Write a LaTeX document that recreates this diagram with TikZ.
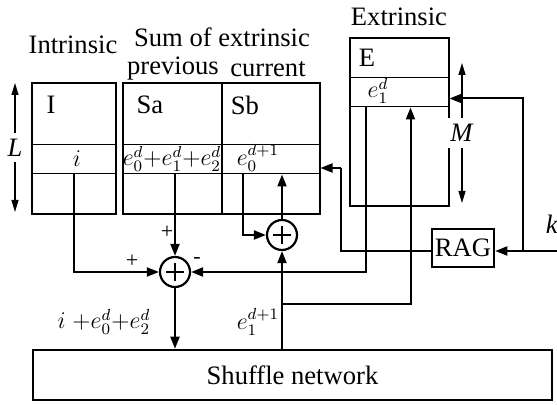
\documentclass[tikz,border=0pt]{standalone}
\usepackage{fontspec}
\setmainfont{Liberation Serif}
\usetikzlibrary{arrows.meta}
\tikzstyle{memory} = [
    rectangle,
    inner sep=0pt,
    line width=1.3pt,
    draw=black
]
\tikzstyle{slot} = [
    rectangle,
    inner sep=0pt,
    minimum height=14.5pt,
    line width=0.5pt,
    draw=black
]
\tikzstyle{adder} = [
    circle,
    minimum size=15pt,
    inner sep=0pt,
    line width=1.1pt,
    draw=black,
    path picture={\draw[line width=1.4pt]
        ([yshift=-3pt]path picture bounding box.north) -- ([yshift=3pt]path picture bounding box.south)
        ([xshift=3pt]path picture bounding box.west) -- ([xshift=-3pt]path picture bounding box.east);}
]
\tikzstyle{process} = [
    rectangle,
    inner sep=0pt,
    line width=1.3pt,
    draw=black
]
\tikzstyle{txt} = [inner sep=1pt]
\tikzstyle{mathtxt} = [inner sep=0pt, font=\fontsize{11.5}{13}\selectfont]
\tikzstyle{sign} = [inner sep=0pt, font=\fontsize{11}{13}\selectfont]
\tikzstyle{wire} = [line width=1pt]
\tikzstyle{arrow} = [line width=1pt,-{Triangle[length=6pt,width=4.5pt]}]
\tikzstyle{dimline} = [line width=0.6pt,{Triangle[length=6pt,width=3.5pt]}-{Triangle[length=6pt,width=3.5pt]}]

\begin{document}
\begin{tikzpicture}[x=0.5pt, y=-0.5pt, font=\fontsize{13.3}{16}\selectfont]
\useasboundingbox (0,0) rectangle (557,405);

\node (irow) [slot, minimum width=42pt] at (74,159.5) {};
\node (imem) [memory, minimum width=42pt, minimum height=65.5pt] at (74,148.5) {};

\node (sarow) [slot, minimum width=49.5pt] at (172.5,159.5) {};
\node (samem) [memory, minimum width=49.5pt, minimum height=65.5pt] at (172.5,148.5) {};

\node (sbrow) [slot, minimum width=49pt] at (271,159.5) {};
\node (sbmem) [memory, minimum width=49pt, minimum height=65.5pt] at (271,148.5) {};

\node (erow) [slot, minimum width=49.5pt] at (399.5,92.5) {};
\node (emem) [memory, minimum width=49.5pt, minimum height=84pt] at (399.5,122) {};

\node (rag) [process, minimum width=31pt, minimum height=19pt] at (463,248) {RAG};

\node (sumA) [adder] at (175,272) {};
\node (sumB) [adder] at (282,235) {};

\node (shuffle) [process, minimum width=259.5pt, minimum height=25pt] at (292.5,375) {Shuffle network};

\node (intrinsic) [txt] at (73,45) {Intrinsic};
\node (sumtitle) [txt] at (222,37) {Sum of extrinsic};
\node (previous) [txt] at (173,69) {previous};
\node (current) [txt] at (268,69) {current};
\node (extrinsic) [txt] at (399,17) {Extrinsic};

\node (itag) [txt] at (51,105) {I};
\node (satag) [txt] at (150,105) {Sa};
\node (sbtag) [txt] at (245,105) {Sb};
\node (etag) [txt] at (367,58) {E};

\node (ival) [mathtxt] at (77,159) {$i$};
\node (saval) [mathtxt] at (172,159) {$e_0^d{+}e_1^d{+}e_2^d$};
\node (sbval) [mathtxt] at (258,158) {$e_0^{d+1}$};
\node (eval) [mathtxt] at (378,91) {$e_1^d$};

\node (plusi) [sign] at (132,261) {+};
\node (plussa) [sign] at (167,232) {+};
\node (minuse) [sign] at (197,261) {-};

\node (outsum) [mathtxt] at (104,322) {$i\;{+}e_0^d{+}e_2^d$};
\node (outext) [mathtxt] at (258,322) {$e_1^{d+1}$};
\node (klabel) [txt] at (552,224) {\textit{k}};

\coordinate (split) at (282,304);
\coordinate (turn) at (341,168);
\coordinate (kin) at (557,251);
\coordinate (ktap) at (523,251);

\draw [dimline] (15,83) -- node[fill=white, inner sep=3pt] (ldim) {\textit{L}} (15,212);
\draw [dimline] (462,63) -- node[fill=white, inner sep=3pt] (mdim) {\textit{M}} (462,203);

\draw [arrow] (irow.south) |- (sumA.west);
\draw [arrow] (sumA |- sarow.south) -- (sumA.north);
\draw [arrow] ([xshift=-17pt]erow.south) |- (sumA.east);
\draw [arrow] (sumA.south) -- (sumA |- shuffle.north);
\draw [arrow] (sumB |- shuffle.north) -- (sumB.south);
\draw [arrow] (split) -| ([xshift=5.5pt]erow.south);
\draw [arrow] ([xshift=-14pt]sbrow.south) |- (sumB.west);
\draw [arrow] (sumB.north) -- (sumB |- sbrow.south);
\draw [wire] (rag.west |- ktap) -| (turn);
\draw [arrow] (turn) -- (turn -| sbrow.east);
\draw [arrow] (kin) -- (rag.east |- kin);
\draw [arrow] (ktap) |- ([yshift=-3pt]erow.east);

\end{tikzpicture}
\end{document}
